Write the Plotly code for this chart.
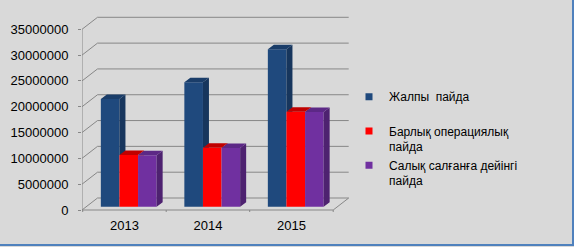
import plotly.graph_objects as go

# ---------------- data ----------------
years = ["2013", "2014", "2015"]
gross_profit = [20860000, 24090000, 30490000]
operating_profit = [10010000, 11430000, 18400000]
pretax_profit = [9950000, 11380000, 18350000]
series_names = ["Жалпы\u00a0\u00a0пайда<br><span style='color:rgba(0,0,0,0)'>.</span>",
                "Барлық операциялық<br>пайда",
                "Салық салғанға дейінгі<br>пайда"]
y_ticks = [0, 5000000, 10000000, 15000000, 20000000, 25000000, 30000000, 35000000]
y_tick_labels = [str(v) for v in y_ticks]

# ---------------- style / layout ----------------
W, H = 574, 247
L, R_PX, T, B_PX = 82, 352, 10, 212
PX_PER_CAT = 83.5
CAT0_LEFT_PX = 82.7
PX_PER_Y = 180.7 / 35000000.0
Y0_PX = 210.0

x0 = -0.5 - (CAT0_LEFT_PX - L) / PX_PER_CAT
x1 = x0 + (R_PX - L) / PX_PER_CAT
y_lo = -(B_PX - Y0_PX) / PX_PER_Y
y_hi = (Y0_PX - T) / PX_PER_Y


def ddx(px):
    return px / PX_PER_CAT


def ddy(px):
    return px / PX_PER_Y


WALL_DX, WALL_DY = 15.5, 12.0
BAR_W_PX, BAR_START_PX, BAR_BASE_PX = 18.6, -23.6, 3.3
SIDE_DX, SIDE_DY = 6.0, 4.5

FONT = "Liberation Sans, Arial, sans-serif"
GRID = "#878787"
BG = "#D9D9D9"
front_colors = ["#1F497D", "#FF0000", "#7030A0"]
side_colors = ["#17365D", "#B00000", "#4E2270"]
top_colors = ["#1A3D69", "#C00000", "#5C2886"]

series = [gross_profit, operating_profit, pretax_profit]
ncat = len(years)
xs = list(range(ncat))
base = ddy(BAR_BASE_PX)
bw = ddx(BAR_W_PX)
sdx, sdy = ddx(SIDE_DX), ddy(SIDE_DY)

fig = go.Figure()

# front faces
for k, vals in enumerate(series):
    fig.add_trace(go.Bar(
        x=xs, y=vals, base=[base] * ncat, width=bw,
        offset=ddx(BAR_START_PX) + k * bw,
        marker=dict(color=front_colors[k], line=dict(width=0)),
        showlegend=False, hoverinfo="skip"))

# side and top faces (computed from the values)
for k, vals in enumerate(series):
    sx, sy, tx, ty = [], [], [], []
    for i in range(ncat):
        xl = xs[i] + ddx(BAR_START_PX) + k * bw
        xr = xl + bw
        t = base + vals[i]
        if k + 1 < len(series):
            tn = base + series[k + 1][i]
            if tn < t:
                poly = [(xr, tn), (xr + sdx, tn), (xr + sdx, t + sdy), (xr, t)]
            elif tn < t + sdy:
                xs_ = xr + sdx * (tn - t) / sdy
                poly = [(xs_, tn), (xr + sdx, tn), (xr + sdx, t + sdy)]
            else:
                poly = []
        else:
            poly = [(xr, base), (xr + sdx, base + sdy), (xr + sdx, t + sdy), (xr, t)]
        if poly:
            for px_, py_ in poly + [poly[0]]:
                sx.append(px_)
                sy.append(py_)
            sx.append(None)
            sy.append(None)
        tpoly = [(xl, t), (xl + sdx, t + sdy), (xr + sdx, t + sdy), (xr, t), (xl, t)]
        for px_, py_ in tpoly:
            tx.append(px_)
            ty.append(py_)
        tx.append(None)
        ty.append(None)
    fig.add_trace(go.Scatter(x=sx, y=sy, mode="lines", fill="toself",
                             fillcolor=side_colors[k], line=dict(width=0),
                             showlegend=False, hoverinfo="skip"))
    fig.add_trace(go.Scatter(x=tx, y=ty, mode="lines", fill="toself",
                             fillcolor=top_colors[k], line=dict(width=0),
                             showlegend=False, hoverinfo="skip"))

# legend entries
for k, name in enumerate(series_names):
    fig.add_trace(go.Scatter(x=[None], y=[None], mode="markers", name=name,
                             marker=dict(symbol="square", size=7, color=front_colors[k])))

# grid / walls as shapes behind the bars
shapes = []
wdx, wdy = ddx(WALL_DX), ddy(WALL_DY)
x_front_right = ncat - 0.5
x_back_right = x_front_right + wdx
gl = dict(color=GRID, width=1)
for v in y_ticks:
    shapes.append(dict(type="line", xref="x", yref="y", x0=x0, y0=v, x1=x0 + wdx, y1=v + wdy,
                       line=gl, layer="below"))
    shapes.append(dict(type="line", xref="x", yref="y", x0=x0 + wdx, y0=v + wdy,
                       x1=x_back_right, y1=v + wdy, line=gl, layer="below"))
# floor front edge and right diagonal
shapes.append(dict(type="line", xref="x", yref="y", x0=x0, y0=0, x1=x_front_right, y1=0,
                   line=gl, layer="below"))
shapes.append(dict(type="line", xref="x", yref="y", x0=x_front_right, y0=0,
                   x1=x_back_right, y1=wdy, line=gl, layer="below"))
for b in range(ncat + 1):
    xb = b - 0.5
    shapes.append(dict(type="line", xref="x", yref="y", x0=xb, y0=0, x1=xb, y1=-ddy(4),
                       line=gl, layer="below"))
# front value axis
shapes.append(dict(type="line", xref="x", yref="y", x0=x0, y0=0, x1=x0, y1=y_ticks[-1],
                   line=gl, layer="below"))


# outer border (right and bottom)
def xp(px):
    return (px - L) / (R_PX - L)


def yp(py):
    return (B_PX - py) / (B_PX - T)


border = dict(color="#4F81BD", width=2)
shapes.append(dict(type="line", xref="paper", yref="paper", x0=xp(573), y0=yp(0),
                   x1=xp(573), y1=yp(245), line=border))
shapes.append(dict(type="line", xref="paper", yref="paper", x0=xp(0), y0=yp(245),
                   x1=xp(574), y1=yp(245), line=border))

fig.update_layout(
    width=W, height=H,
    margin=dict(l=L, r=W - R_PX, t=T, b=H - B_PX, pad=0, autoexpand=False),
    paper_bgcolor=BG, plot_bgcolor=BG,
    barmode="overlay",
    font=dict(family=FONT, size=13, color="#000000"),
    shapes=shapes,
    xaxis=dict(range=[x0, x1], tickvals=xs, ticktext=years, showgrid=False,
               zeroline=False, showline=False, ticks="", fixedrange=True,
               ticklabelstandoff=4, automargin=False),
    yaxis=dict(range=[y_lo, y_hi], tickvals=y_ticks, ticktext=y_tick_labels,
               showgrid=False, zeroline=False, showline=False, ticks="outside",
               ticklen=3, tickcolor=GRID, tickwidth=1, fixedrange=True,
               ticklabelstandoff=7, automargin=False),
    legend=dict(x=xp(349), y=yp(82.5), xanchor="left", yanchor="top",
                bgcolor="rgba(0,0,0,0)", font=dict(family=FONT, size=12),
                valign="top", traceorder="normal", tracegroupgap=0),
    showlegend=True,
)

fig.write_html(
    "out.html",
    config={"displayModeBar": False},
    post_script="document.body.style.margin='0';document.body.style.background='%s';" % BG,
)
